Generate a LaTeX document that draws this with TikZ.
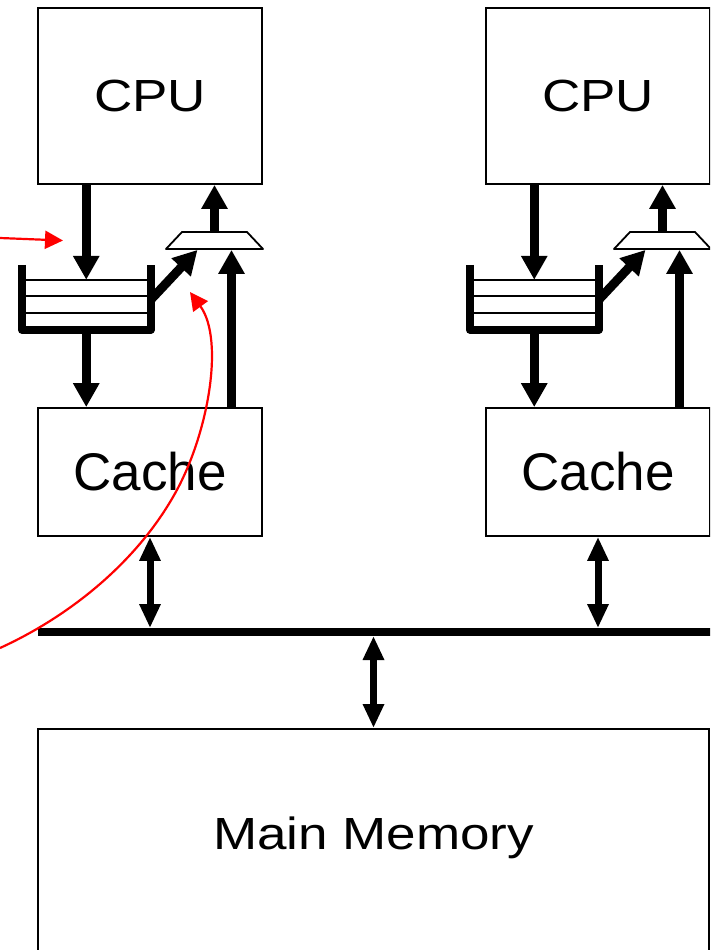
\documentclass[tikz,border=0pt]{standalone}
\usepackage{fontspec}
\setmainfont{Liberation Sans}
\usepackage{graphicx}
\usetikzlibrary{arrows.meta,calc}

\tikzset{
	unit/.style={draw, line width=1.8pt, minimum width=224pt, inner sep=0pt, font=\fontsize{53}{60}\selectfont},
	lbl/.style={inner sep=0pt, font=\fontsize{53}{60}\selectfont},
	fat/.style={line width=9pt, -{Triangle[width=25pt,length=24pt]}},
	busarrow/.style={line width=7pt, {Triangle[width=20pt,length=24pt]}-{Triangle[width=20pt,length=24pt]}},
	bus/.style={line width=8pt},
	note/.style={red, line width=2.2pt, -{Triangle[width=18pt,length=18pt]}},
	slot/.style={line width=2pt},
	wall/.style={line width=8pt, line join=round},
	muxbox/.style={minimum width=97pt, minimum height=17pt, inner sep=0pt, outer sep=0pt},
	muxline/.style={draw, fill=white, line width=1.8pt, line join=round},
}
\newcommand{\squash}[1]{\scalebox{1}[0.85]{#1}}

\begin{document}
\begin{tikzpicture}[x=1pt,y=-1pt]
		\useasboundingbox (0,0) rectangle (710,950);
		\clip (0,0) rectangle (710,950);
		
		\node[unit, minimum height=176pt] (cpuL) at (150,96) {\squash{CPU}};
		\node[unit, minimum height=176pt] (cpuR) at (598,96) {\squash{CPU}};
		\node[unit, minimum height=128pt] (cacheL) at (150,472) {Cache};
		\node[unit, minimum height=128pt] (cacheR) at (598,472) {Cache};
		\node[unit, minimum width=671pt, minimum height=280pt, anchor=north] (mem) at (373.5,728) {};
		\node[lbl] (memtext) at (373.5,837.5) {\squash{Main Memory}};
		
		% store queues
		\node[minimum width=128.5pt, minimum height=49.5pt, inner sep=0pt] (qL) at (86.25,304.75) {};
		\node[minimum width=128.5pt, minimum height=49.5pt, inner sep=0pt] (qR) at (534.25,304.75) {};
		\foreach \q in {qL,qR} {
			\foreach \f in {0,0.333,0.667}
				\draw[slot] ($(\q.north west)!\f!(\q.south west)$) -- ($(\q.north east)!\f!(\q.south east)$);
			\draw[wall] ($(\q.north west)+(0,-15)$) -- (\q.south west) -- (\q.south east) -- ($(\q.north east)+(0,-15)$);
		}
		
		% muxes
		\node[muxbox] (muxL) at (214.5,240.5) {};
		\node[muxbox] (muxR) at (662.5,240.5) {};
		\foreach \m in {muxL,muxR}
			\draw[muxline] (\m.south west) -- ($(\m.north west)+(16,0)$) -- ($(\m.north east)+(-16,0)$) -- (\m.south east) -- cycle;
		\coordinate (inLa) at ($(muxL.south)+(-17,0)$);
		\coordinate (inLb) at ($(muxL.south)+(17,0)$);
		\coordinate (inRa) at ($(muxR.south)+(-17,0)$);
		\coordinate (inRb) at ($(muxR.south)+(17,0)$);
		
		\draw[fat] (cpuL.south -| qL.north) -- (qL.north);
		\draw[fat] (qL.south) -- (qL.south |- cacheL.north);
		\draw[fat] (cacheL.north -| inLb) -- ([yshift=-0.9pt]inLb);
		\draw[fat] ($(qL.north east)+(0,20)$) -- ([yshift=-0.9pt]inLa);
		\draw[fat] ([yshift=0.9pt]muxL.north) -- (muxL.north |- cpuL.south);
		
		\draw[fat] (cpuR.south -| qR.north) -- (qR.north);
		\draw[fat] (qR.south) -- (qR.south |- cacheR.north);
		\draw[fat] (cacheR.north -| inRb) -- ([yshift=-0.9pt]inRb);
		\draw[fat] ($(qR.north east)+(0,20)$) -- ([yshift=-0.9pt]inRa);
		\draw[fat] ([yshift=0.9pt]muxR.north) -- (muxR.north |- cpuR.south);
		
		% bus
		\coordinate (busW) at (38,632);
		\coordinate (busE) at (712,632);
		\draw[bus] (busW) -- (busE);
		\draw[busarrow, shorten >=4pt] (cacheL.south) -- (cacheL.south |- busW);
		\draw[busarrow, shorten >=4pt] (cacheR.south) -- (cacheR.south |- busW);
		\draw[busarrow, shorten <=4pt] (busW -| mem.north) -- (mem.north);
		
		% annotations
		\coordinate (noteA) at (0,238);
		\coordinate (noteAend) at (63,240.5);
		\coordinate (noteB) at (0,648);
		\coordinate (noteBend) at (190,292);
		\draw[note] (noteA) -- (noteAend);
		\draw[note] (noteB) .. controls (70,616) and (135,563) .. (173,497) .. controls (208,437) and (225,340) .. (noteBend);
	\end{tikzpicture}
\end{document}
